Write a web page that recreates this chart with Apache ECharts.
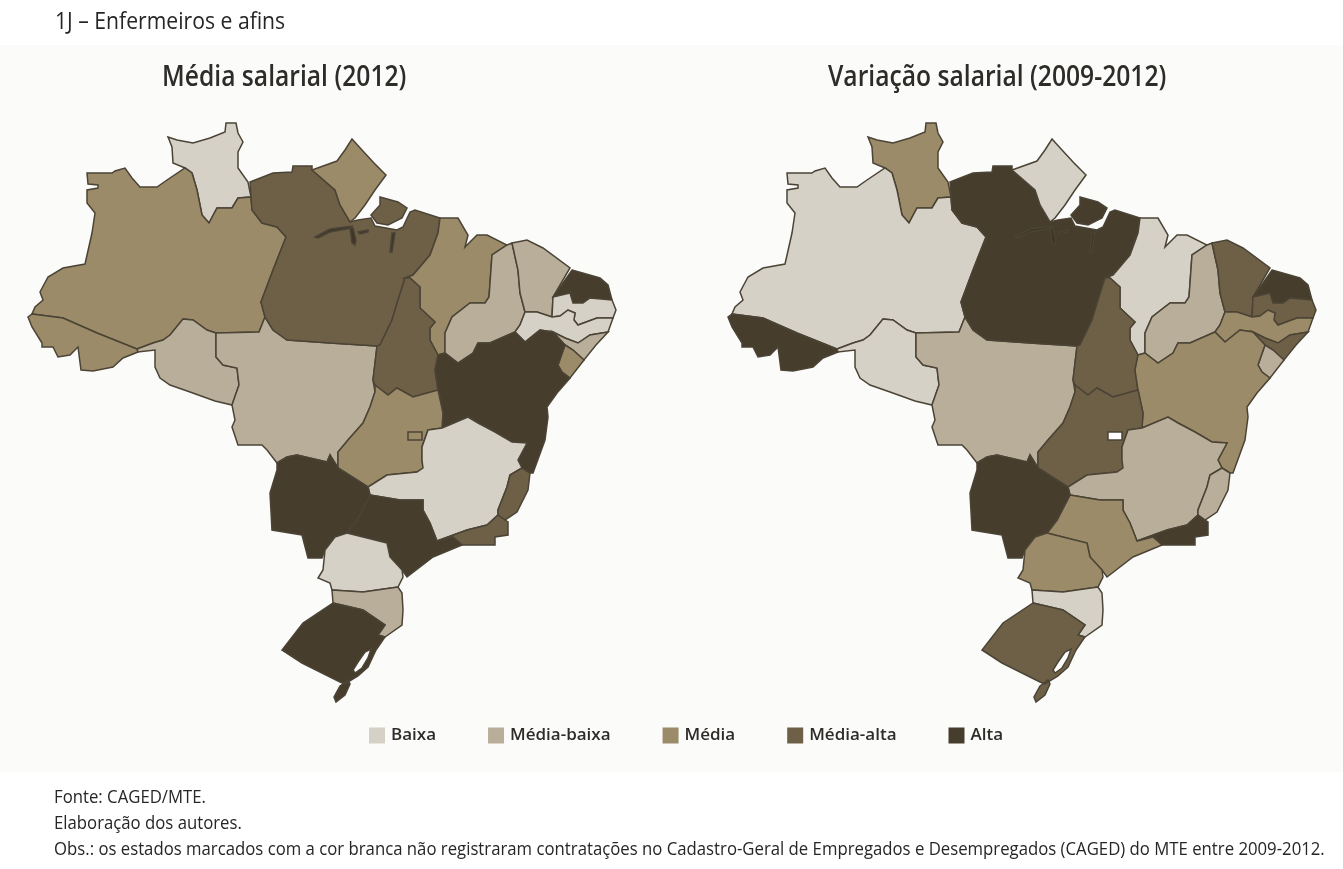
<!DOCTYPE html>
<html>
<head>
<meta charset="utf-8">
<title>1J – Enfermeiros e afins</title>
<script src="https://cdn.jsdelivr.net/npm/echarts@6/dist/echarts.min.js"></script>
<style>
html, body {margin:0; padding:0; background:#fff;}
#chart {width:1343px; height:869px;}
</style>
</head>
<body>
<div id="chart"></div>
<script>
// Categorias da legenda
const classLabels = ['Baixa', 'Média-baixa', 'Média', 'Média-alta', 'Alta'];
const classColors = ['#d6d1c6', '#b9ae9a', '#9b8b68', '#6e6046', '#473d2c'];

// Classe de cada estado: 1 = Baixa ... 5 = Alta, 0 = sem contratações (branco)
const stateNames  = ['RR','AM','AC','RO','MT','PA','AP','MA','TO','PI','CE','RN','PB','PE','AL','SE','BA','GO','DF','MG','ES','RJ','SP','MS','PR','SC','RS'];
const mediaSalarial =    [1,3,3,2,2,4,3,3,4,2,2,5,1,1,2,3,5,3,3,1,4,4,5,5,1,2,5];
const variacaoSalarial = [3,1,5,1,2,5,1,1,4,2,4,5,4,3,4,2,3,4,0,2,2,5,3,5,3,1,4];

// Contornos (mesma forma nos dois mapas)
const RR = [[168,137],[177,140],[193,143],[210,138],[225,132],[226,123],[236,123],[238,133],[243,142],[238,152],[238,168],[248,182],[251,197],[238,198],[232,208],[217,208],[209,223],[202,215],[197,190],[192,173],[185,168],[173,163],[172,147]];
const AM = [[87,173],[112,173],[115,171],[125,168],[132,178],[140,187],[157,187],[167,180],[185,168],[192,173],[197,190],[202,215],[209,223],[217,208],[232,208],[238,198],[251,197],[252,210],[262,223],[277,227],[286,237],[273,270],[261,302],[265,317],[259,332],[216,333],[207,330],[193,320],[183,319],[170,335],[163,340],[153,343],[137,349],[97,333],[63,318],[32,314],[35,307],[43,300],[40,292],[48,277],[63,268],[85,264],[92,233],[95,213],[87,203],[87,190],[98,188],[98,185],[88,184]];
const AC = [[32,314],[63,318],[97,333],[137,349],[138,352],[123,358],[113,367],[93,371],[81,370],[78,347],[70,355],[58,357],[53,347],[42,347],[42,343],[32,327],[28,317]];
const RO = [[183,319],[193,320],[207,330],[216,333],[216,357],[223,365],[237,368],[239,385],[232,405],[215,401],[190,392],[170,385],[160,378],[155,367],[155,350],[138,352],[137,349],[153,343],[163,340],[170,335]];
const MT = [[216,333],[259,332],[265,317],[273,330],[287,340],[330,343],[377,346],[373,380],[375,392],[370,407],[363,423],[348,440],[338,452],[338,468],[330,455],[327,462],[297,455],[287,457],[277,463],[267,450],[262,445],[238,445],[232,427],[235,420],[232,405],[239,385],[237,368],[223,365],[216,357]];
const PA = [[250,182],[273,173],[292,172],[293,166],[312,166],[312,170],[335,190],[340,205],[350,222],[358,220],[371,218],[375,226],[397,230],[403,227],[410,212],[415,210],[440,218],[438,233],[430,255],[413,275],[405,278],[398,300],[392,320],[380,345],[377,346],[330,343],[287,340],[273,330],[265,317],[261,302],[273,270],[286,237],[277,227],[262,223],[252,210],[251,197]];
const MARAJO = [[380,197],[398,202],[407,208],[402,218],[388,225],[377,223],[371,215],[380,205]];
const AP = [[312,170],[337,161],[345,150],[352,139],[362,150],[374,163],[386,175],[375,190],[365,205],[355,218],[350,222],[340,205],[335,190]];
const MA = [[440,218],[458,218],[468,235],[465,247],[477,235],[487,235],[507,245],[492,255],[489,297],[485,303],[470,303],[452,317],[445,333],[445,353],[438,355],[430,340],[430,328],[435,322],[420,308],[420,287],[410,278],[405,278],[413,275],[430,255],[438,233]];
const TO = [[405,278],[410,278],[420,287],[420,308],[435,322],[430,328],[430,340],[438,355],[435,370],[438,390],[413,397],[397,388],[388,395],[375,385],[373,380],[377,346],[380,345],[392,320],[398,300]];
const PI = [[507,245],[512,243],[518,270],[520,293],[525,312],[520,325],[515,332],[490,343],[478,343],[473,353],[458,363],[445,353],[445,333],[452,317],[470,303],[485,303],[489,297],[492,255]];
const CE = [[512,243],[527,240],[543,248],[570,268],[553,297],[552,317],[537,312],[525,312],[520,293],[518,270]];
const RN = [[572,270],[600,278],[608,285],[612,300],[590,298],[583,303],[573,303],[570,293],[553,297]];
const PB = [[553,297],[570,293],[573,303],[583,303],[590,298],[612,300],[616,310],[613,318],[597,318],[578,325],[574,320],[575,313],[568,310],[560,316],[552,317]];
const PE = [[525,312],[537,312],[552,317],[560,316],[568,310],[575,313],[574,320],[578,325],[597,318],[613,318],[608,332],[590,335],[578,343],[565,338],[553,332],[540,330],[525,342],[515,332],[520,325]];
const AL = [[553,332],[565,338],[578,343],[590,335],[608,332],[596,345],[584,360],[573,350],[565,345]];
const SE = [[565,345],[573,350],[584,360],[570,378],[562,372],[558,365]];
const BA = [[438,355],[445,353],[458,363],[473,353],[478,343],[490,343],[515,332],[525,342],[540,330],[553,332],[565,345],[558,365],[562,372],[570,378],[557,393],[552,400],[547,407],[548,417],[545,440],[533,473],[530,473],[522,468],[518,460],[527,443],[512,442],[495,432],[478,423],[468,417],[442,428],[443,413],[438,390],[435,370]];
const GO = [[375,385],[388,395],[397,388],[413,397],[438,390],[443,413],[442,428],[428,430],[422,447],[422,460],[423,468],[417,472],[387,475],[368,487],[338,468],[338,452],[348,440],[363,423],[370,407],[375,392]];
const DF = [[408,432],[422,432],[422,440],[408,440]];
const MG = [[442,428],[468,417],[478,423],[495,432],[512,442],[527,443],[518,460],[522,468],[510,475],[507,487],[498,510],[498,515],[487,525],[467,530],[437,541],[430,523],[423,510],[423,500],[400,500],[370,495],[368,487],[387,475],[417,472],[423,468],[422,460],[422,447],[428,430]];
const ES = [[522,468],[530,473],[528,490],[517,512],[505,520],[498,515],[498,510],[507,487],[510,475]];
const RJ = [[437,541],[467,530],[487,525],[498,515],[505,520],[508,522],[508,535],[495,537],[495,545],[462,545],[453,537]];
const SP = [[370,495],[400,500],[423,500],[423,510],[430,523],[437,541],[453,537],[462,545],[433,557],[407,577],[402,570],[390,557],[387,543],[347,533],[357,520]];
const MS = [[277,463],[287,457],[297,455],[327,462],[330,455],[338,468],[368,487],[370,495],[357,520],[347,533],[335,537],[325,550],[322,558],[308,558],[302,535],[272,530],[270,493],[277,470]];
const PR = [[335,537],[347,533],[387,543],[390,557],[402,570],[403,577],[398,587],[363,592],[332,590],[330,583],[318,578],[323,570],[325,550]];
const SC = [[332,590],[363,592],[398,587],[402,593],[403,610],[402,625],[385,637],[378,635],[385,625],[363,610],[333,603]];
const RS = [[333,603],[363,610],[385,625],[378,635],[385,637],[376,650],[368,667],[358,676],[345,684],[340,682],[302,663],[282,650],[303,623]];
// Furo da lagoa: sentido contrário ao do contorno do RS
const LAGOA = [[355,673],[362,668],[368,658],[371,649],[365,652],[358,662],[353,670]];
const RS_SUL = [[340,686],[348,680],[350,684],[345,695],[336,702],[334,697]];
// Canais na foz do Amazonas
const CANAL_A = [[315,237],[330,229],[352,226],[352,228],[330,232],[318,238]];
const CANAL_B = [[350,228],[353,228],[356,240],[355,245],[352,243]];
const CANAL_C = [[358,232],[368,230],[368,232],[360,234]];
const CANAL_D = [[392,233],[395,233],[392,252],[390,252]];

const stateShapes = {RR:[[RR]], AM:[[AM]], AC:[[AC]], RO:[[RO]], MT:[[MT]], PA:[[PA],[MARAJO]], AP:[[AP]], MA:[[MA]], TO:[[TO]], PI:[[PI]], CE:[[CE]], RN:[[RN]], PB:[[PB]], PE:[[PE]], AL:[[AL]], SE:[[SE]], BA:[[BA]], GO:[[GO]], MG:[[MG]], ES:[[ES]], RJ:[[RJ]], SP:[[SP]], MS:[[MS]], PR:[[PR]], SC:[[SC]], RS:[[RS,LAGOA],[RS_SUL]], DF:[[DF]]};
const channels = [CANAL_A, CANAL_B, CANAL_C, CANAL_D];

const toGeo = ring => ring.map(p => [p[0], -p[1]]).concat([[ring[0][0], -ring[0][1]]]);
let features = stateNames.slice().sort((a, b) => (a == 'DF') - (b == 'DF')).map(name => ({
    type:'Feature', properties:{name:name},
    geometry:{type:'MultiPolygon', coordinates:stateShapes[name].map(poly => poly.map(toGeo))}
}));
channels.forEach((c, i) => features.push({
    type:'Feature', properties:{name:'canal' + i},
    geometry:{type:'Polygon', coordinates:[toGeo(c)]}
}));
// Cada mapa precisa do seu nome, senão o ECharts junta as duas séries
echarts.registerMap('brasil2012', {type:'FeatureCollection', features:features});
echarts.registerMap('brasil2009', {type:'FeatureCollection', features:features});

const toData = values => stateNames.map((n, i) => ({name:n, value:values[i]}));
const mapSeries = (map, values, left) => ({
    type:'map', map:map, silent:true,
    aspectScale:1, left:left, top:123, width:588, height:579,
    label:{show:false},
    itemStyle:{areaColor:'#3f3626', borderColor:'#4b4436', borderWidth:1.5},
    emphasis:{disabled:true}, select:{disabled:true},
    data:toData(values)
});
const staticText = (text, x, y, size, weight, scaleX, color) => ({
    type:'text', x:x, y:y, scaleX:scaleX, silent:true,
    style:{text:text, fontFamily:'"Open Sans"', fontSize:size, fontWeight:weight, fill:color, textVerticalAlign:'middle'}
});

let chart = echarts.init(document.getElementById('chart'));
chart.setOption({
    backgroundColor:'#fff',
    animation:false,
    graphic:[
        {type:'rect', shape:{x:0, y:45, width:1343, height:727}, style:{fill:'#fbfbfa'}, z:-10, silent:true},
        staticText('1J – Enfermeiros e afins', 55, 22, 23, 400, 0.92, '#262626'),
        staticText('Média salarial (2012)', 162, 78, 29, 600, 0.85, '#2e2c29'),
        staticText('Variação salarial (2009-2012)', 828, 78, 29, 600, 0.85, '#2e2c29'),
        staticText('Fonte: CAGED/MTE.', 54, 798, 18, 400, 0.93, '#262626'),
        staticText('Elaboração dos autores.', 54, 824, 18, 400, 0.93, '#262626'),
        staticText('Obs.: os estados marcados com a cor branca não registraram contratações no Cadastro-Geral de Empregados e Desempregados (CAGED) do MTE entre 2009-2012.', 54, 850, 18, 400, 0.93, '#262626')
    ],
    visualMap:{
        type:'piecewise', orient:'horizontal', left:354, top:712,
        itemWidth:16, itemHeight:16, itemGap:52, textGap:6, itemSymbol:'rect',
        selectedMode:false, align:'left',
        textStyle:{fontFamily:'"Open Sans"', fontSize:17, fontWeight:600, color:'#2e2c29'},
        pieces:classLabels.map((label, i) => ({value:i + 1, label:label, color:classColors[i]})),
        outOfRange:{color:'#ffffff'}
    },
    series:[mapSeries('brasil2012', mediaSalarial, 28), mapSeries('brasil2009', variacaoSalarial, 728)]
});
</script>
</body>
</html>
